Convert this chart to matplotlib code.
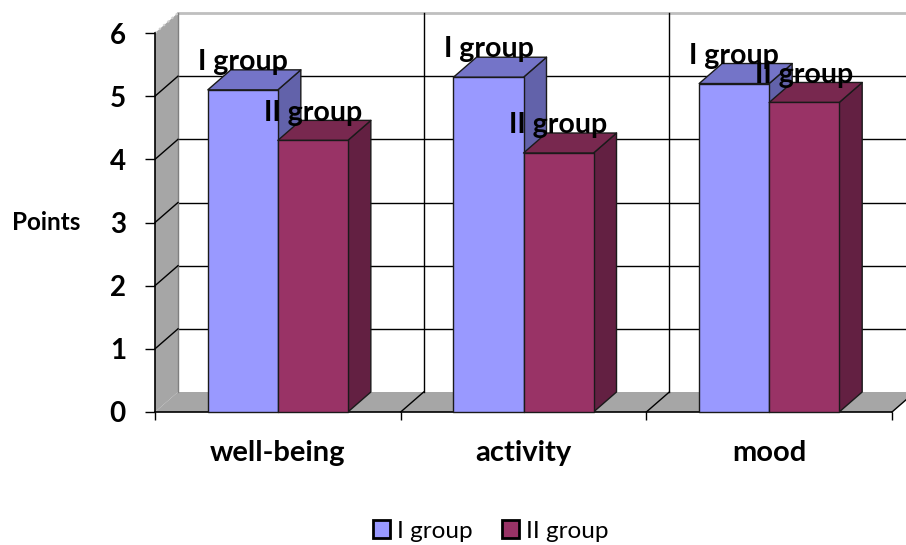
import matplotlib
matplotlib.use("Agg")
import matplotlib.pyplot as plt
from matplotlib.patches import Polygon, Patch

plt.rcParams['font.family'] = ['Lato', 'DejaVu Sans']

# data
categories = ["well-being", "activity", "mood"]
series_names = ["I group", "II group"]
group1 = [5.1, 5.3, 5.2]
group2 = [4.3, 4.1, 4.9]
y_ticks = [0, 1, 2, 3, 4, 5, 6]

front_colors = ["#9999FF", "#993366"]
top_colors = ["#7474C8", "#78284F"]
side_colors = ["#6262AA", "#632042"]

W, H = 906, 545
fig = plt.figure(figsize=(W / 100, H / 100), dpi=100)
# front plane of the plot box
x_left, x_right = 155, 892
y_zero, y_top = 412, 33
ax = fig.add_axes([x_left / W, (H - y_zero) / H, (x_right - x_left) / W, (y_zero - y_top) / H])
ax.set_xlim(0, 3)
ax.set_ylim(0, 6)

# oblique depth offset (in data units)
px_x = (x_right - x_left) / 3.0
px_y = (y_zero - y_top) / 6.0
DX = 23 / px_x
DY = 20 / px_y

ncat = len(categories)
vmax = y_ticks[-1]
wall_grey = "#A6A6A6"

# left side wall
ax.add_patch(Polygon([(0, 0), (DX, DY), (DX, vmax + DY), (0, vmax)], closed=True,
                     facecolor=wall_grey, edgecolor="none", zorder=1, clip_on=False))
ax.plot([DX, DX], [DY, vmax + DY], color="#7F7F7F", lw=1, zorder=1.5, clip_on=False)
# floor
ax.add_patch(Polygon([(0, 0), (ncat, 0), (ncat + DX, DY), (DX, DY)], closed=True,
                     facecolor=wall_grey, edgecolor="none", zorder=1, clip_on=False))

# gridlines on back and side walls
for v in y_ticks[1:-1]:
    ax.plot([DX, ncat + DX], [v + DY, v + DY], color="black", lw=1, zorder=1.2, clip_on=False)
    ax.plot([0, DX], [v, v + DY], color="black", lw=1, zorder=1.6, clip_on=False)
ax.plot([DX, ncat + DX], [vmax + DY, vmax + DY], color="#BFBFBF", lw=2, zorder=1.2, clip_on=False)
ax.plot([0, DX], [vmax, vmax + DY], color="#D0D0D0", lw=1.5, ls=":", zorder=1.6, clip_on=False)
# category dividers on back wall and floor
for c in range(1, ncat + 1):
    if c < ncat:
        ax.plot([c + DX, c + DX], [DY, vmax + DY], color="black", lw=1, zorder=1.2, clip_on=False)
    ax.plot([c, c + DX], [0, DY], color="black", lw=1, zorder=1.6, clip_on=False)

# 3D-looking columns
bar_w = 0.285
gap = (1 - 2 * bar_w) / 2
values = [group1, group2]
for c in range(ncat):
    for s in range(2):
        v = values[s][c]
        x0 = c + gap + s * bar_w
        x1 = x0 + bar_w
        z = 3 + c * 0.1 + s * 0.01
        kw = dict(closed=True, edgecolor="#1A1A1A", lw=1, clip_on=False, joinstyle="round")
        ax.add_patch(Polygon([(x1, 0), (x1 + DX, DY), (x1 + DX, v + DY), (x1, v)],
                             facecolor=side_colors[s], zorder=z, **kw))
        ax.add_patch(Polygon([(x0, v), (x1, v), (x1 + DX, v + DY), (x0 + DX, v + DY)],
                             facecolor=top_colors[s], zorder=z, **kw))
        ax.add_patch(Polygon([(x0, 0), (x1, 0), (x1, v), (x0, v)],
                             facecolor=front_colors[s], zorder=z + 0.001, **kw))
        ax.text((x0 + x1) / 2, v + 0.44, series_names[s], ha="center", va="center",
                fontsize=20.5, fontweight="bold", color="black", zorder=10)

# front axes
for side in ("top", "right"):
    ax.spines[side].set_visible(False)
ax.spines["left"].set_color("black")
ax.spines["bottom"].set_color("black")
ax.spines["left"].set_linewidth(1.2)
ax.spines["bottom"].set_linewidth(1.2)
ax.spines["left"].set_zorder(2)
ax.spines["bottom"].set_zorder(2)

ax.set_yticks(y_ticks)
ax.set_yticklabels([str(t) for t in y_ticks], fontsize=20, fontweight="bold")
ax.tick_params(axis="y", direction="out", length=7, width=1, pad=14, colors="black")

ax.set_xticks(range(ncat + 1))
ax.set_xticklabels([])
ax.tick_params(axis="x", which="major", direction="out", length=6, width=1)
ax.set_xticks([c + 0.5 for c in range(ncat)], minor=True)
ax.set_xticklabels(categories, minor=True, fontsize=21, fontweight="bold")
ax.tick_params(axis="x", which="minor", length=0, pad=20)

ax.set_ylabel("Points", rotation=0, fontsize=17.5, fontweight="bold", ha="center", va="center")
ax.yaxis.set_label_coords((46 - x_left) / (x_right - x_left), 0.5)

handles = [Patch(facecolor=front_colors[i], edgecolor="black", lw=2) for i in range(2)]
fig.legend(handles, series_names, loc="center", bbox_to_anchor=(491 / W, 1 - 531 / H),
           ncol=2, frameon=False, fontsize=17.5, handlelength=0.7, handleheight=0.7,
           handletextpad=0.3, columnspacing=1.2)

fig.savefig("out.png", dpi=100)
